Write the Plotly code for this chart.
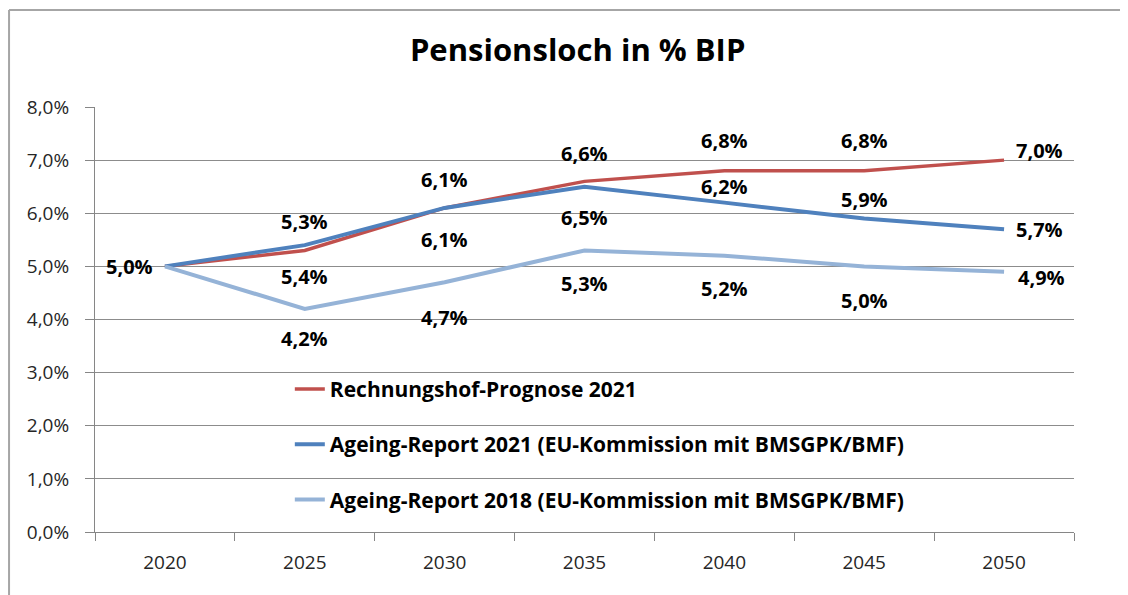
import plotly.graph_objects as go

years = ["2020", "2025", "2030", "2035", "2040", "2045", "2050"]
rechnungshof = [5.0, 5.3, 6.1, 6.6, 6.8, 6.8, 7.0]
ageing_2021 = [5.0, 5.4, 6.1, 6.5, 6.2, 5.9, 5.7]
ageing_2018 = [5.0, 4.2, 4.7, 5.3, 5.2, 5.0, 4.9]

names = [
    "Rechnungshof-Prognose 2021",
    "Ageing-Report 2021 (EU-Kommission mit BMSGPK/BMF)",
    "Ageing-Report 2018 (EU-Kommission mit BMSGPK/BMF)",
]
series = [rechnungshof, ageing_2021, ageing_2018]
colors = ["#C0504D", "#4F81BD", "#95B3D7"]
widths = [3.5, 4, 4]

# label placement style per series/point: (xanchor, xshift, yshift) or None
label_pos = [
    [("right", -10, 0), ("center", 0, 29), ("center", 0, 28), ("center", 0, 28),
     ("center", 0, 30), ("center", 0, 30), ("left", 10, 10)],
    [None, ("center", 0, -31), ("center", 0, -32), ("center", 0, -31),
     ("center", 0, 16), ("center", 0, 19), ("left", 10, 0)],
    [None, ("center", 0, -30), ("center", 0, -35), ("center", 0, -33),
     ("center", 0, -33), ("center", 0, -34), ("left", 12, -6)],
]

FONT = "Open Sans"
fig = go.Figure()
annotations = []
for i, (name, vals) in enumerate(zip(names, series)):
    fig.add_trace(go.Scatter(
        x=years, y=vals, mode="lines", name=name,
        line=dict(color=colors[i], width=widths[i]),
        legendgroup=f"g{i}",
    ))
    for j, v in enumerate(vals):
        pos = label_pos[i][j]
        if pos is None:
            continue
        xa, xs, ys = pos
        annotations.append(dict(
            x=j, y=v, xref="x", yref="y",
            text=f"{v:.1f}".replace(".", ",") + "%",
            showarrow=False, xanchor=xa, yanchor="middle",
            xshift=xs, yshift=ys,
            font=dict(family=FONT, size=20, color="#000000", weight="bold"),
        ))

shapes = [
    dict(type="line", xref="paper", yref="paper", x0=-0.0878, x1=-0.0878,
         y0=1.2282, y1=-0.3, line=dict(color="#A6A6A6", width=2)),
    dict(type="line", xref="paper", yref="paper", x0=-0.0878, x1=1.1,
         y0=1.2282, y1=1.2282, line=dict(color="#A6A6A6", width=2)),
]

fig.update_layout(
    width=1128, height=595,
    margin=dict(l=87, r=62, t=99, b=71, autoexpand=False),
    paper_bgcolor="white", plot_bgcolor="white",
    separators=",.",
    title=dict(text="<b>Pensionsloch in % BIP</b>", x=0.505, xref="container",
               y=1 - 42 / 595, yref="container", xanchor="center", yanchor="middle",
               font=dict(family=FONT, size=31, color="#000000")),
    font=dict(family=FONT, color="#262626"),
    annotations=annotations,
    shapes=shapes,
    legend=dict(x=0.199, y=0.384, xanchor="left", yanchor="top",
                bgcolor="rgba(0,0,0,0)", tracegroupgap=25,
                font=dict(family=FONT, size=21, color="#000000", weight="bold")),
    xaxis=dict(type="category", range=[-0.5, 6.5], tickson="boundaries",
               ticks="outside", ticklen=8, tickangle=0,
               tickcolor="#868686", showline=True, linecolor="#868686", linewidth=1,
               showgrid=False, tickfont=dict(family=FONT, size=19, color="#262626"),
               ticklabelstandoff=13),
    yaxis=dict(range=[0, 8], dtick=1, tickformat=".1f", ticksuffix="%",
               ticks="outside", ticklen=9, tickcolor="#868686",
               showline=True, linecolor="#868686", linewidth=1,
               showgrid=True, gridcolor="#8C8C8C", gridwidth=1, zeroline=False,
               tickfont=dict(family=FONT, size=19, color="#262626"),
               ticklabelstandoff=12),
)

fig.write_html("out.html")
